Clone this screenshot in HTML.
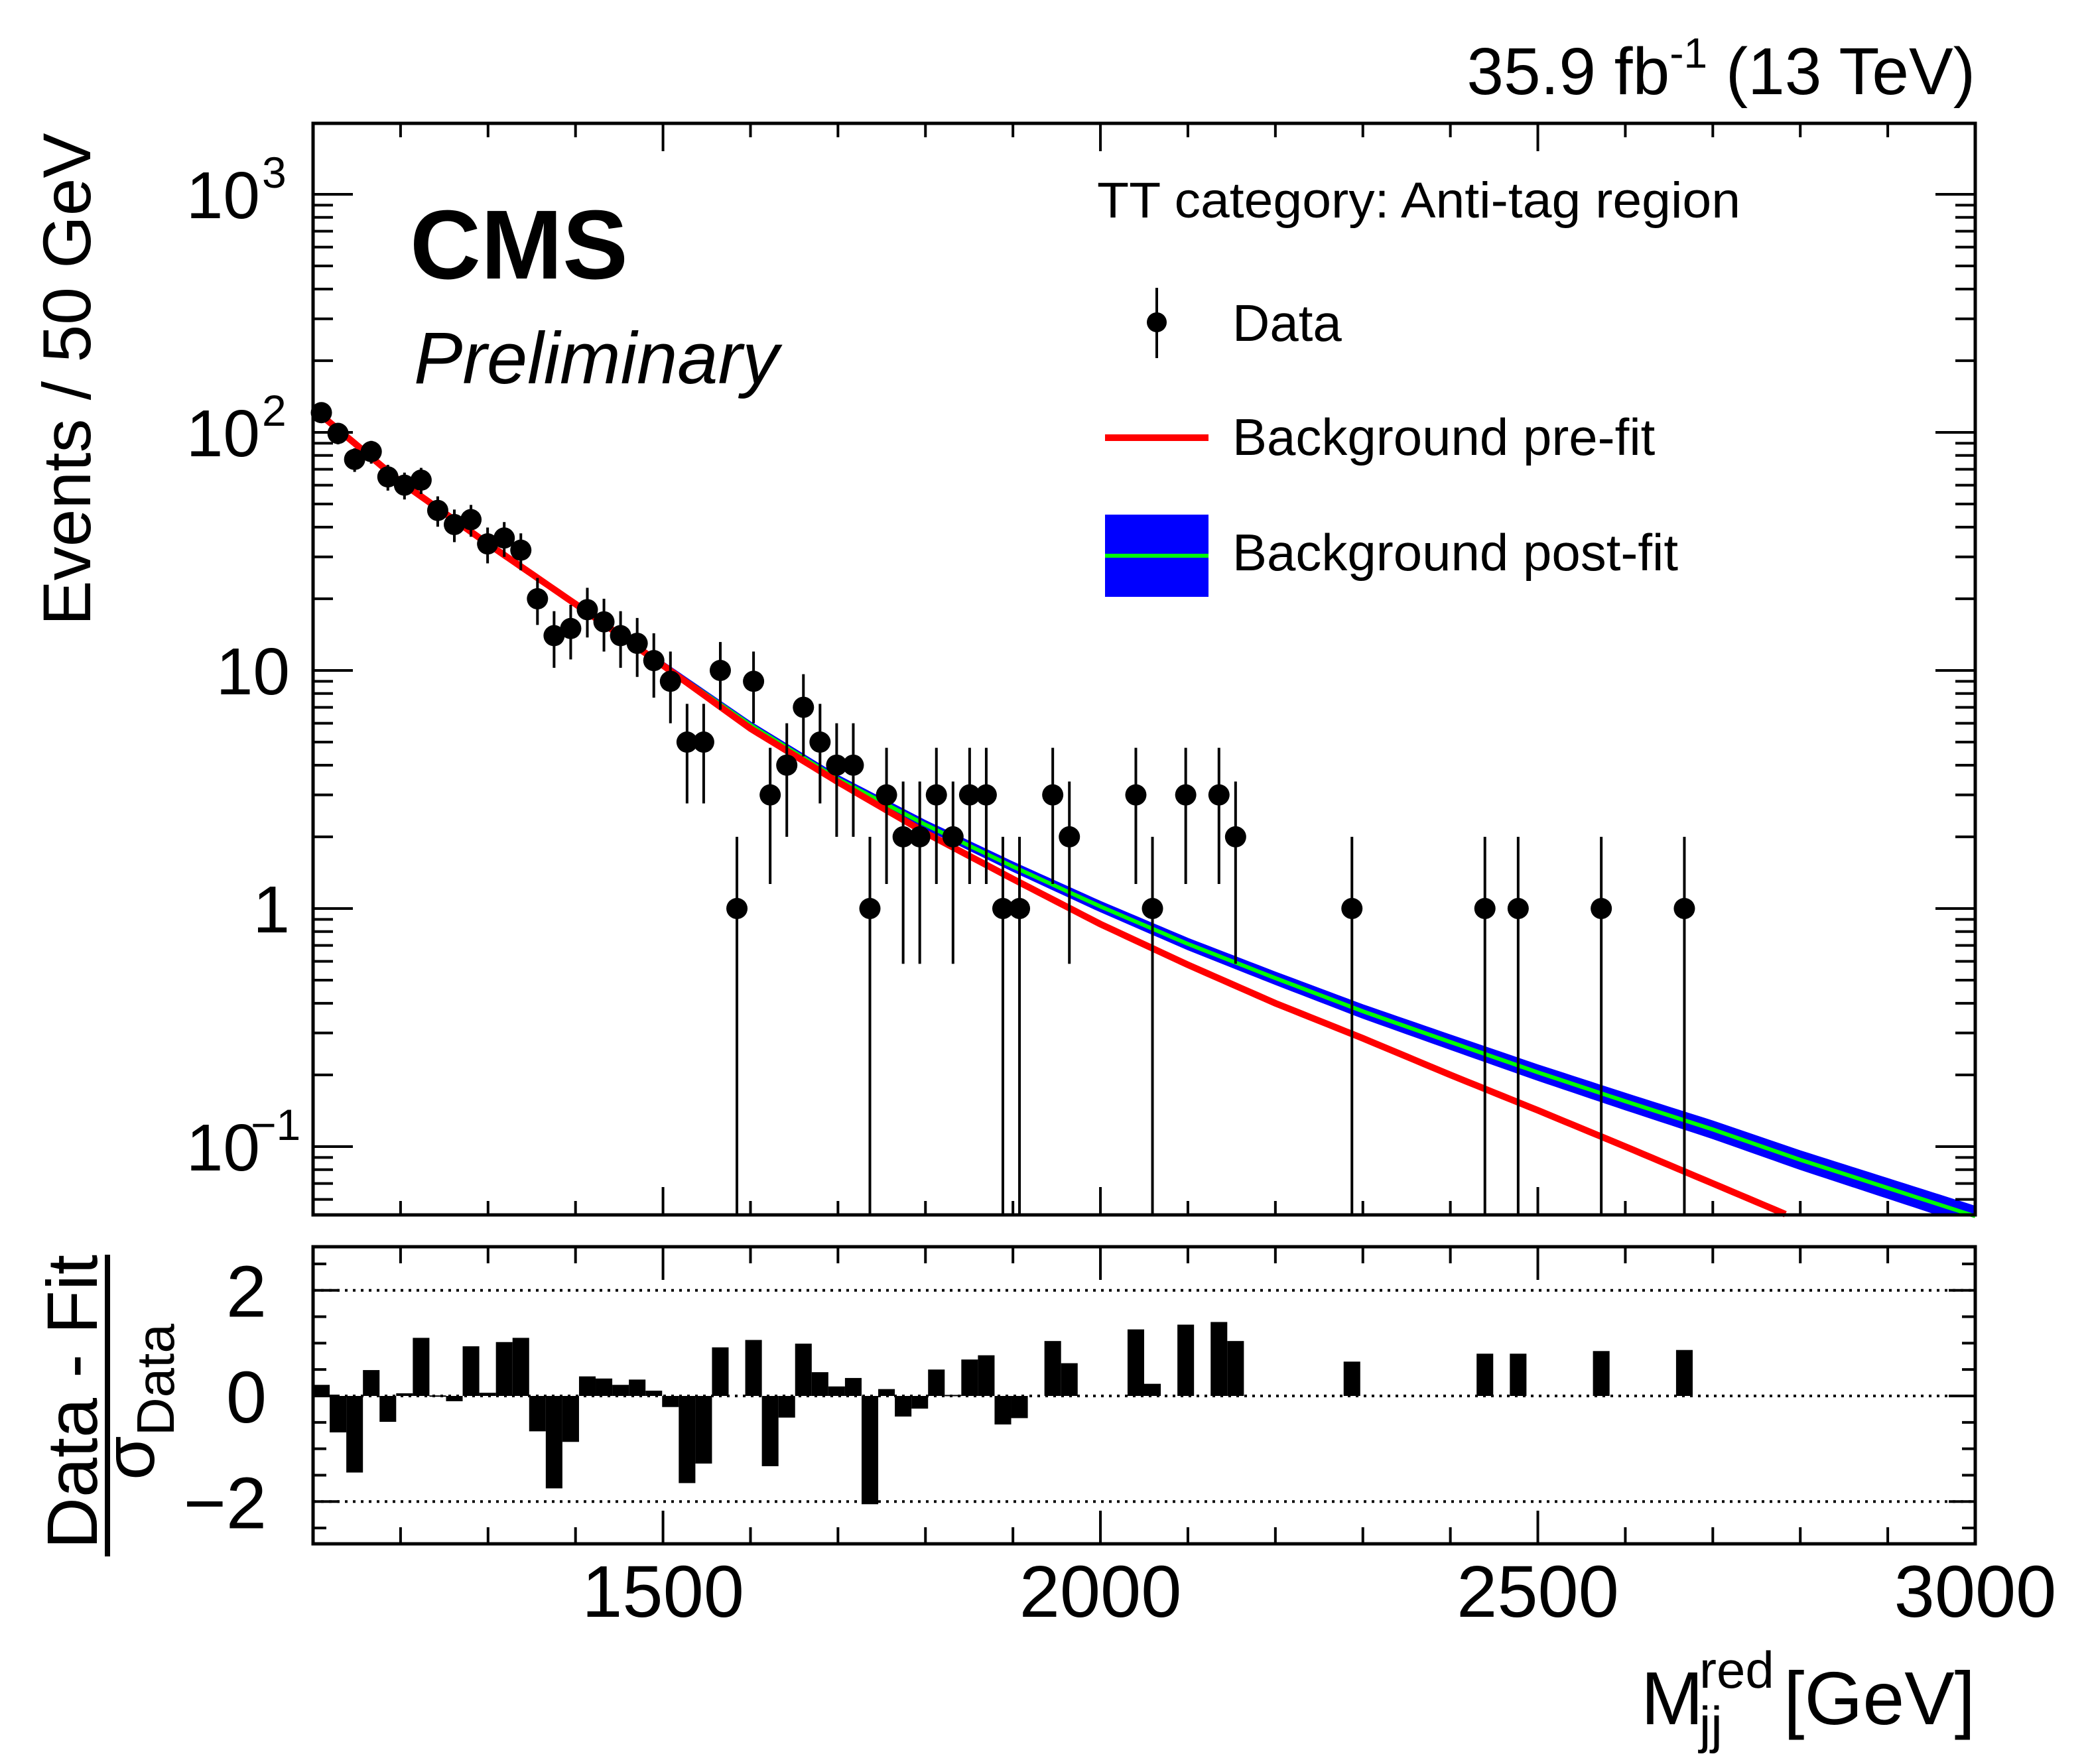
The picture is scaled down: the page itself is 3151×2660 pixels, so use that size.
<!DOCTYPE html>
<html><head><meta charset="utf-8"><style>
html,body{margin:0;padding:0;background:#fff;}
svg{display:block;font-family:"Liberation Sans",Arial,sans-serif;}
</style></head><body>
<svg id="chart" xmlns="http://www.w3.org/2000/svg" width="3151" height="2660" viewBox="0 0 3151 2660">
<rect x="0" y="0" width="3151" height="2660" fill="#fff"/>
<g id="band-layer"></g><g id="curve-layer"></g><g id="data-layer"></g><g id="ratio-layer"></g><g id="axis-layer"></g>
<text x="2978" y="142" font-size="100" text-anchor="end">35.9 fb<tspan dy="-40" font-size="64">-1</tspan><tspan dy="40"> (13 TeV)</tspan></text>
<text x="618" y="420" font-size="148" font-weight="bold">CMS</text>
<text x="624" y="578" font-size="110" font-style="italic">Preliminary</text>
<text x="1654" y="328" font-size="76" textLength="970" lengthAdjust="spacingAndGlyphs">TT category: Anti-tag region</text>
<g>
<g><line x1="1744" y1="434" x2="1744" y2="540" stroke="#000" stroke-width="4"/><circle cx="1744" cy="486" r="15" fill="#000"/><text x="1858" y="514" font-size="78">Data</text></g>
<g><line x1="1666" y1="660" x2="1822" y2="660" stroke="#ff0000" stroke-width="10"/><text x="1858" y="686" font-size="78">Background pre-fit</text></g>
<g><rect x="1666" y="776" width="156" height="124" fill="#0000ff"/><line x1="1666" y1="838" x2="1822" y2="838" stroke="#00ff00" stroke-width="6"/><text x="1858" y="860" font-size="78">Background post-fit</text></g>
</g>
<text transform="translate(136,572) rotate(-90)" font-size="102" text-anchor="middle">Events / 50 GeV</text>
<g>
<text transform="translate(146,2114) rotate(-90)" font-size="108" text-anchor="middle">Data - Fit</text>
<line x1="162" y1="1892" x2="162" y2="2347" stroke="#000" stroke-width="8"/>
<text transform="translate(232,2114) rotate(-90)" font-size="108" text-anchor="middle">σ<tspan dy="30" font-size="80">Data</tspan></text>
</g>
<g>
<text x="2474" y="2600" font-size="113">M</text>
<text x="2562" y="2545" font-size="78">red</text>
<text x="2562" y="2628" font-size="78">jj</text>
<text x="2978" y="2600" font-size="113" text-anchor="end">[GeV]</text>
</g>
</svg>
<script>
// ---- data ----
const binLow = 1100;
const binWidth = 19;
const counts = [121,99,77,83,65,60,63,47,41,43,34,36,32,20,14,15,18,16,14,13,11,9,5,5,10,1,9,3,4,7,5,4,4,1,3,2,2,3,2,3,3,1,1,0,3,2,0,0,0,3,1,0,3,0,3,2,0,0,0,0,0,0,1,0,0,0,0,0,0,0,1,0,1,0,0,0,0,1,0,0,0,0,1];
const pulls = [0.21,-0.69,-1.45,0.49,-0.49,0.05,1.10,0.01,-0.10,0.94,0.06,1.02,1.10,-0.67,-1.75,-0.87,0.37,0.33,0.21,0.31,0.10,-0.21,-1.65,-1.28,0.92,null,1.06,-1.33,-0.41,0.99,0.45,0.18,0.34,-2.05,0.13,-0.39,-0.24,0.50,0.02,0.69,0.77,-0.54,-0.42,null,1.04,0.62,null,null,null,1.26,0.23,null,1.35,null,1.40,1.04,null,null,null,null,null,null,0.65,null,null,null,null,null,null,null,0.80,null,0.80,null,null,null,null,0.85,null,null,null,null,0.87];
const curveMass = [1100,1200,1300,1400,1500,1600,1700,1800,1900,2000,2100,2200,2300,2400,2500,2600,2700,2783];
const preFit = [126,62,34,19,10.5,5.7,3.4,2.08,1.33,0.86,0.58,0.40,0.285,0.20,0.142,0.10,0.07,0.052];
const postMass = [1100,1200,1300,1400,1500,1600,1700,1800,1900,2000,2100,2200,2300,2400,2500,2600,2700,2800,2900,3000];
const postFit = [126,62,34,19,10.6,5.9,3.5,2.25,1.5,1.02,0.71,0.51,0.37,0.275,0.205,0.155,0.118,0.088,0.067,0.051];
const postErr = [0.02,0.02,0.02,0.02,0.02,0.025,0.03,0.035,0.04,0.045,0.05,0.055,0.06,0.065,0.07,0.075,0.08,0.085,0.09,0.095];
const xTicks = [1500,2000,2500,3000];
const yTicks = [[1000,"10","3"],[100,"10","2"],[10,"10",""],[1,"1",""],[0.1,"10","−1"]];
const rTicks = [[2,"2"],[0,"0"],[-2,"−2"]];
// ---- geometry ----
const L=472,R=2978,T=186,B=1832,RT=1880,RB=2328;
const xMin=1100,xMax=3000,lgMin=-1.287,lgMax=3.298,rMin=-2.8,rMax=2.825;
const X=m=>L+(m-xMin)/(xMax-xMin)*(R-L);
const Y=v=>B-(Math.log10(v)-lgMin)/(lgMax-lgMin)*(B-T);
const RY=p=>RB-(p-rMin)/(rMax-rMin)*(RB-RT);
const NS="http://www.w3.org/2000/svg";
function mk(tag,attrs,parent){const e=document.createElementNS(NS,tag);for(const k in attrs)e.setAttribute(k,attrs[k]);parent.appendChild(e);return e;}
const band=document.getElementById('band-layer'),curves=document.getElementById('curve-layer'),dl=document.getElementById('data-layer'),rl=document.getElementById('ratio-layer'),al=document.getElementById('axis-layer');
function interp(ms,vs,m){for(let i=0;i<ms.length-1;i++){if(m>=ms[i]&&m<=ms[i+1]){const t=(m-ms[i])/(ms[i+1]-ms[i]);return Math.pow(10,Math.log10(vs[i])*(1-t)+Math.log10(vs[i+1])*t);}}return null;}
function interpLin(ms,vs,m){for(let i=0;i<ms.length-1;i++){if(m>=ms[i]&&m<=ms[i+1]){const t=(m-ms[i])/(ms[i+1]-ms[i]);return vs[i]*(1-t)+vs[i+1]*t;}}return vs[vs.length-1];}
// band
let up=[],dn=[],mid=[];
for(let m=postMass[0];m<=postMass[postMass.length-1];m+=10){const v=interp(postMass,postFit,m),e=interpLin(postMass,postErr,m);up.push([X(m),Y(v*(1+e))]);dn.push([X(m),Math.min(B,Y(v*(1-e)))]);mid.push([X(m),Y(v)]);}
const bp=mk('path',{d:'M'+up.map(p=>p.join(',')).join(' L')+' L'+dn.reverse().map(p=>p.join(',')).join(' L')+'Z',fill:'#0000ff',stroke:'#0000ff','stroke-width':3},band);


const gp=mk('path',{d:'M'+mid.map(p=>p.join(',')).join(' L'),fill:'none',stroke:'#00ff00','stroke-width':6},curves);


let rp=[];for(let m=curveMass[0];m<=curveMass[curveMass.length-1];m+=10){rp.push([X(m),Y(interp(curveMass,preFit,m))]);}
rp.push([X(curveMass[curveMass.length-1]),Y(preFit[preFit.length-1])]);
const rpath=mk('path',{d:'M'+rp.map(p=>p.join(',')).join(' L'),fill:'none',stroke:'#ff0000','stroke-width':10},curves);


// data points
counts.forEach((n,i)=>{if(n<=0)return;const m=binLow+binWidth*(i+0.5);const s=Math.sqrt(n);const lo=n-s;const yl=lo>0?Math.min(Y(lo),B):B;
const g=mk('g',{},dl);


mk('line',{x1:X(m),x2:X(m),y1:Y(n+s),y2:yl,stroke:'#000','stroke-width':4},g);mk('circle',{cx:X(m),cy:Y(n),r:16,fill:'#000'},g);});
// ratio
[2,0,-2].forEach(p=>{const l=mk('line',{x1:L,x2:R,y1:RY(p),y2:RY(p),stroke:'#000','stroke-width':4,'stroke-dasharray':'4 8'},rl);

});
pulls.forEach((p,i)=>{if(p===null)return;const x0=X(binLow+binWidth*i),x1=X(binLow+binWidth*(i+1));const y0=RY(0),y1=RY(Math.max(rMin,Math.min(rMax,p)));
const r=mk('rect',{x:x0,y:Math.min(y0,y1),width:x1-x0,height:Math.max(2,Math.abs(y1-y0)),fill:'#000'},rl);

});
// frames
[[T,B],[RT,RB]].forEach(([t,b],k)=>{const f=mk('rect',{x:L,y:t,width:R-L,height:b-t,fill:'none',stroke:'#000','stroke-width':5},al);


for(let m=1200;m<=2900;m+=100){const maj=(m%500===0);const len=maj?(k?50:42):(k?25:21);
mk('line',{x1:X(m),x2:X(m),y1:b,y2:b-len,stroke:'#000','stroke-width':4},al);mk('line',{x1:X(m),x2:X(m),y1:t,y2:t+len,stroke:'#000','stroke-width':4},al);}});
// main y ticks
for(let d=-2;d<=3;d++){for(let j=1;j<=9;j++){const v=j*Math.pow(10,d);const lg=Math.log10(v);if(lg<lgMin||lg>lgMax)continue;const len=j===1?60:30;const y=Y(v);
mk('line',{x1:L,x2:L+len,y1:y,y2:y,stroke:'#000','stroke-width':4},al);mk('line',{x1:R,x2:R-len,y1:y,y2:y,stroke:'#000','stroke-width':4},al);}}
// ratio y ticks
for(let p=-2.5;p<=2.6;p+=0.5){const maj=Math.abs(p-Math.round(p/2)*2)<1e-6;const len=maj?40:20;const y=RY(p);
mk('line',{x1:L,x2:L+len,y1:y,y2:y,stroke:'#000','stroke-width':4},al);mk('line',{x1:R,x2:R-len,y1:y,y2:y,stroke:'#000','stroke-width':4},al);}
// labels
yTicks.forEach(([v,base,sup])=>{const t=mk('text',{x:sup?392:437,y:Y(v)+36,'font-size':100,'text-anchor':'end'},al);t.textContent=base;


if(sup){const s=mk('text',{x:sup.length>1?378:395,y:Y(v)-10,'font-size':66},al);s.textContent=sup;

}});
rTicks.forEach(([p,l])=>{const t=mk('text',{x:402,y:RY(p)+40,'font-size':110,'text-anchor':'end'},al);t.textContent=l;

});
xTicks.forEach(m=>{const t=mk('text',{x:X(m),y:2438,'font-size':110,'text-anchor':'middle'},al);t.textContent=m;

});
</script>
</body></html>
